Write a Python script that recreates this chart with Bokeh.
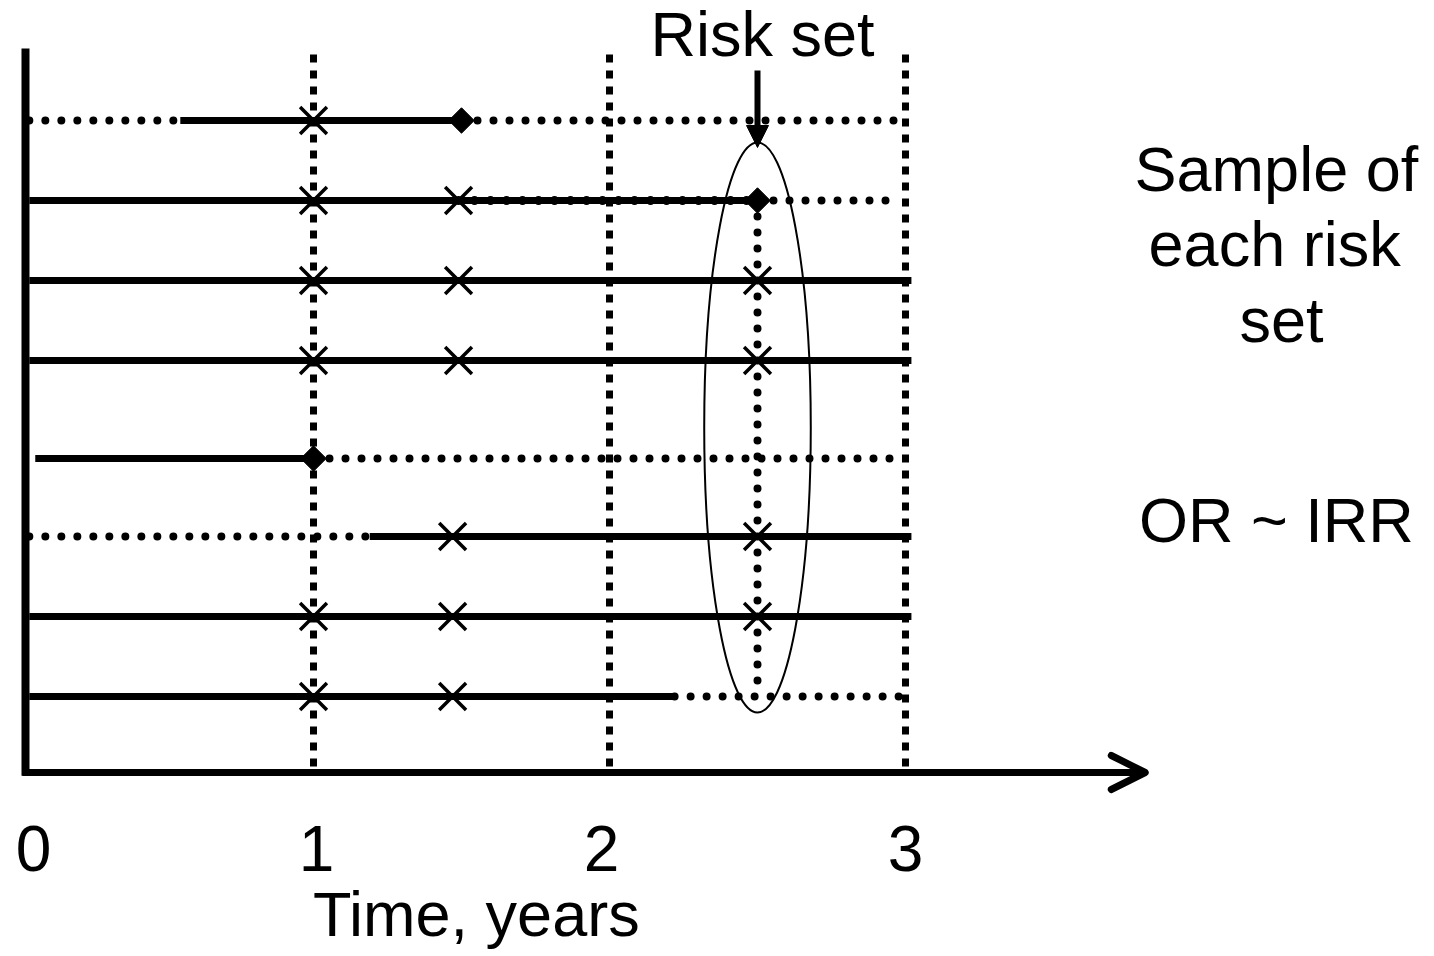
import math
from bokeh.plotting import figure
from bokeh.models import Range1d, Arrow, NormalHead, OpenHead
from bokeh.core.properties import value
from bokeh.embed import file_html
from bokeh.resources import INLINE

# ---- data (time in years, subjects stacked vertically) ----
row_y = [8.2, 7.2, 6.2, 5.2, 3.975, 3.0, 2.0, 1.0]
entry_t = [0.55, 0.04, 0.04, 0.04, 0.06, 1.19, 0.04, 0.04]
exit_t = [1.50, 2.50, 3.02, 3.02, 1.00, 3.02, 3.02, 2.22]
case_rows = [0, 1, 4]                 # event (diamond) at exit
late_entry_rows = [0, 5]              # dotted before entry
tail_rows = [0, 1, 4, 7]              # dotted after exit
tail_end = [2.97, 2.97, 3.00, 2.99]
exposure_rows = [0, 1, 1, 2, 2, 2, 3, 3, 3, 5, 5, 6, 6, 6, 7, 7]
exposure_t = [1.0, 1.0, 1.49, 1.0, 1.49, 2.5, 1.0, 1.49, 2.5,
              1.47, 2.5, 1.0, 1.47, 2.5, 1.0, 1.47]
sampled_row = 1
sampled_from, sampled_to = 1.49, 2.5
grid_t = [1, 2, 3]
tick_vals = [0, 1, 2, 3]
tick_labels = ["0", "1", "2", "3"]
risk_time = 2.5
x_label = "Time, years"
risk_label = "Risk set"
side_lines = ["Sample of", "each risk", "set"]
side_note = "OR ~ IRR"

FONT = value("Liberation Sans")
FS = "63px"
DOT = "0 16"
TY = 0.3  # text baseline correction

p = figure(width=1434, height=956,
           x_range=Range1d(-17 / 296, 1417 / 296), y_range=Range1d(-2.25, 9.7),
           output_backend="svg", toolbar_location=None, min_border=0,
           x_axis_location=None, y_axis_location=None)
p.grid.visible = False
p.outline_line_color = None
p.background_fill_color = "white"

# vertical year lines (square dots)
p.segment(x0=grid_t, y0=[0.125] * 3, x1=grid_t, y1=[9.075] * 3,
          line_color="black", line_width=7, line_dash="8 8", line_cap="butt")

# risk set vertical dotted line
p.segment(x0=[risk_time], y0=[row_y[1]], x1=[risk_time], y1=[row_y[-1]],
          line_color="black", line_width=8, line_dash=DOT, line_cap="round")

# late entry dotted
p.segment(x0=[0.04] * len(late_entry_rows), y0=[row_y[r] for r in late_entry_rows],
          x1=[entry_t[r] for r in late_entry_rows], y1=[row_y[r] for r in late_entry_rows],
          line_color="black", line_width=8, line_dash=DOT, line_cap="round")

# dotted after exit
p.segment(x0=[exit_t[r] for r in tail_rows], y0=[row_y[r] for r in tail_rows],
          x1=tail_end, y1=[row_y[r] for r in tail_rows],
          line_color="black", line_width=8, line_dash=DOT, line_cap="round")

# follow-up (solid)
p.segment(x0=entry_t, y0=row_y, x1=exit_t, y1=row_y,
          line_color="black", line_width=7, line_cap="butt")

# sampled stretch overlay dots
p.segment(x0=[sampled_from], y0=[row_y[sampled_row]], x1=[sampled_to], y1=[row_y[sampled_row]],
          line_color="black", line_width=9, line_dash=DOT, line_cap="round")

# axes
p.segment(x0=[0.027], y0=[0.01], x1=[0.027], y1=[9.1], line_color="black", line_width=8)
p.add_layout(Arrow(x_start=0.017, y_start=0.05, x_end=3.81, y_end=0.05,
                   line_color="black", line_width=7,
                   end=OpenHead(size=34, line_width=7, line_color="black", line_cap="round",
                                line_join="round")))

# exposure marks
p.scatter(x=exposure_t, y=[row_y[r] for r in exposure_rows], marker="x",
          size=38, line_color="black", line_width=3.5)

# events
p.scatter(x=[exit_t[r] for r in case_rows], y=[row_y[r] for r in case_rows],
          marker="square", angle=math.pi / 4, size=18,
          fill_color="black", line_color="black")

# risk set ellipse
p.ellipse(x=[risk_time], y=[4.3625], width=0.36, height=7.125,
          fill_color=None, line_color="black", line_width=2)

# arrow to risk set
p.add_layout(Arrow(x_start=risk_time, y_start=8.825, x_end=risk_time, y_end=7.8625,
                   line_color="black", line_width=6,
                   end=NormalHead(size=22, fill_color="black", line_color="black")))

# texts
p.text(x=[2.517], y=[8.9875 + TY], text=[risk_label], text_font=FONT, text_font_size=FS,
       text_align="center", text_baseline="alphabetic", text_color="black")
p.text(x=[4.253, 4.247, 4.27], y=[7.3 + TY, 6.3625 + TY, 5.4125 + TY], text=side_lines,
       text_font=FONT, text_font_size=FS, text_align="center",
       text_baseline="alphabetic", text_color="black")
p.text(x=[4.253], y=[2.9125 + TY], text=[side_note], text_font=FONT, text_font_size=FS,
       text_align="center", text_baseline="alphabetic", text_color="black")
p.text(x=tick_vals, y=[-1.2 + TY] * 4, text=tick_labels, x_offset=[16, 3, -8, 0],
       text_font=FONT, text_font_size="64px", text_align="center",
       text_baseline="alphabetic", text_color="black")
p.text(x=[1.55], y=[-2.02 + TY], text=[x_label], text_font=FONT, text_font_size=FS,
       text_align="center", text_baseline="alphabetic", text_color="black")

open("out.html", "w").write(file_html(p, INLINE))
